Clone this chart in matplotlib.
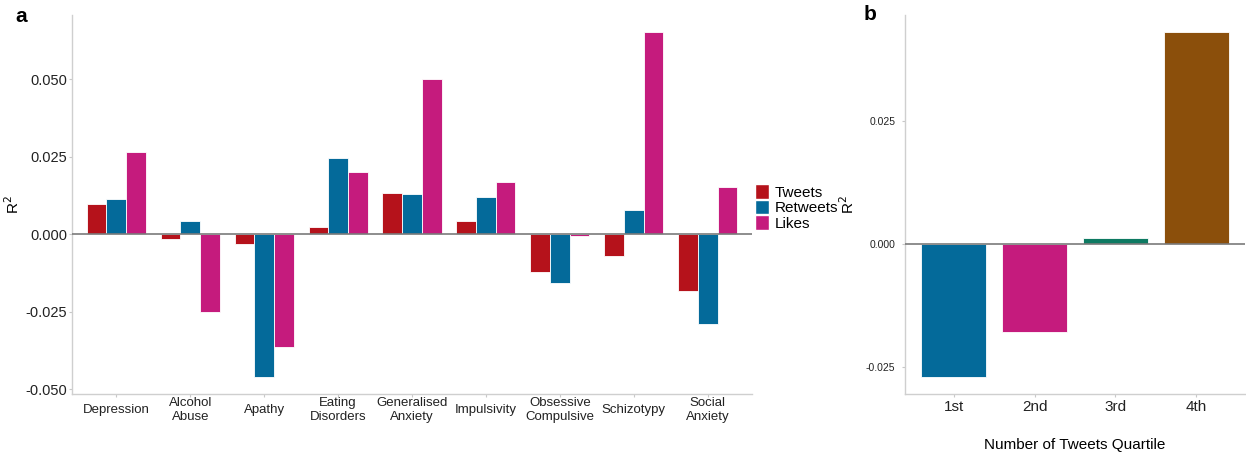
import matplotlib.pyplot as plt
import numpy as np
from matplotlib.patches import Patch

plt.rcParams['font.family'] = ['Liberation Sans', 'DejaVu Sans']

# panel a data
categories = ["Depression", "Alcohol\nAbuse", "Apathy", "Eating\nDisorders", "Generalised\nAnxiety",
              "Impulsivity", "Obsessive\nCompulsive", "Schizotypy", "Social\nAnxiety"]
tweets = [0.0099, -0.0015, -0.0032, 0.0024, 0.0134, 0.0042, -0.0122, -0.0069, -0.0184]
retweets = [0.0113, 0.0042, -0.0461, 0.0245, 0.0129, 0.0119, -0.0157, 0.0079, -0.0289]
likes = [0.0265, -0.0252, -0.0364, 0.0200, 0.0501, 0.0169, -0.0005, 0.0652, 0.0152]
series_names = ["Tweets", "Retweets", "Likes"]
series_colors = ["#B5121B", "#046A9A", "#C51B7D"]

# panel b data
quartiles = ["1st", "2nd", "3rd", "4th"]
quartile_r2 = [-0.0271, -0.0180, 0.0013, 0.0432]
quartile_colors = ["#046A9A", "#C51B7D", "#0D7A62", "#8B4F0B"]

W, H = 1246, 457
fig = plt.figure(figsize=(W / 100, H / 100), dpi=100)


def px_axes(left, top, right, bottom):
    return fig.add_axes([left / W, (H - bottom) / H, (right - left) / W, (bottom - top) / H])


def style_axes(ax):
    for s in ["top", "right"]:
        ax.spines[s].set_visible(False)
    for s in ["left", "bottom"]:
        ax.spines[s].set_color("#cfcfcf")
        ax.spines[s].set_linewidth(1.0)
    ax.tick_params(colors="#c8c8c8", length=2, width=0.8, labelcolor="#222222")
    ax.tick_params(axis="y", pad=1.5)
    ax.axhline(0, color="#7a7a7a", linewidth=1.2, zorder=3)


# ---- panel a ----
ax1 = px_axes(72, 15, 752, 394)
x = np.arange(1, len(categories) + 1)
bw = 0.8 / 3
for i, (vals, name, col) in enumerate(zip([tweets, retweets, likes], series_names, series_colors)):
    ax1.bar(x + (i - 1) * bw, vals, width=bw, color=col, edgecolor="white", linewidth=0.6, zorder=2)
ax1.set_xlim(0.4, len(categories) + 0.6)
ax1.set_ylim(-0.0516, 0.0708)
ax1.set_xticks(x)
ax1.set_xticklabels(categories, fontsize=9.5, linespacing=1.2, va="center")
ax1.set_yticks([-0.05, -0.025, 0, 0.025, 0.05])
ax1.set_yticklabels(["-0.050", "-0.025", "0.000", "0.025", "0.050"], fontsize=10.5)
ax1.set_ylabel("R$^2$", fontsize=11)
ax1.yaxis.set_label_coords((22 - 72) / 680, 0.5)
style_axes(ax1)
ax1.tick_params(axis="x", pad=9.5)

handles = [Patch(facecolor=c, edgecolor="white", label=n) for c, n in zip(series_colors, series_names)]
fig.legend(handles=handles, loc="upper left", bbox_to_anchor=(752 / W, (H - 181) / H), frameon=False,
           fontsize=11, handlelength=0.9, handleheight=1.1, labelspacing=0.0, handletextpad=0.4,
           borderaxespad=0, borderpad=0.2)

# ---- panel b ----
ax2 = px_axes(905, 15, 1245, 394)
xq = np.arange(1, len(quartiles) + 1)
ax2.bar(xq, quartile_r2, width=0.8, color=quartile_colors, edgecolor="white", linewidth=0.6, zorder=2)
ax2.set_xlim(0.4, len(quartiles) + 0.6)
ax2.set_ylim(-0.0306, 0.0467)
ax2.set_xticks(xq)
ax2.set_xticklabels(quartiles, fontsize=11)
ax2.set_yticks([-0.025, 0, 0.025])
ax2.set_yticklabels(["-0.025", "0.000", "0.025"], fontsize=7.5)
ax2.set_ylabel("R$^2$", fontsize=11)
ax2.yaxis.set_label_coords((857 - 905) / 340, 0.5)
ax2.set_xlabel("Number of Tweets Quartile", fontsize=11, va="center")
ax2.xaxis.set_label_coords(0.5, (394 - 445) / 379)
style_axes(ax2)
ax2.tick_params(axis="x", pad=2)
ax2.tick_params(axis="y", pad=5)

fig.text(15 / W, 1 - 16 / H, "a", fontsize=15, fontweight="bold", va="center", ha="left")
fig.text(864 / W, 1 - 14 / H, "b", fontsize=15, fontweight="bold", va="center", ha="left")

fig.savefig("out.png", dpi=100, facecolor="white")
